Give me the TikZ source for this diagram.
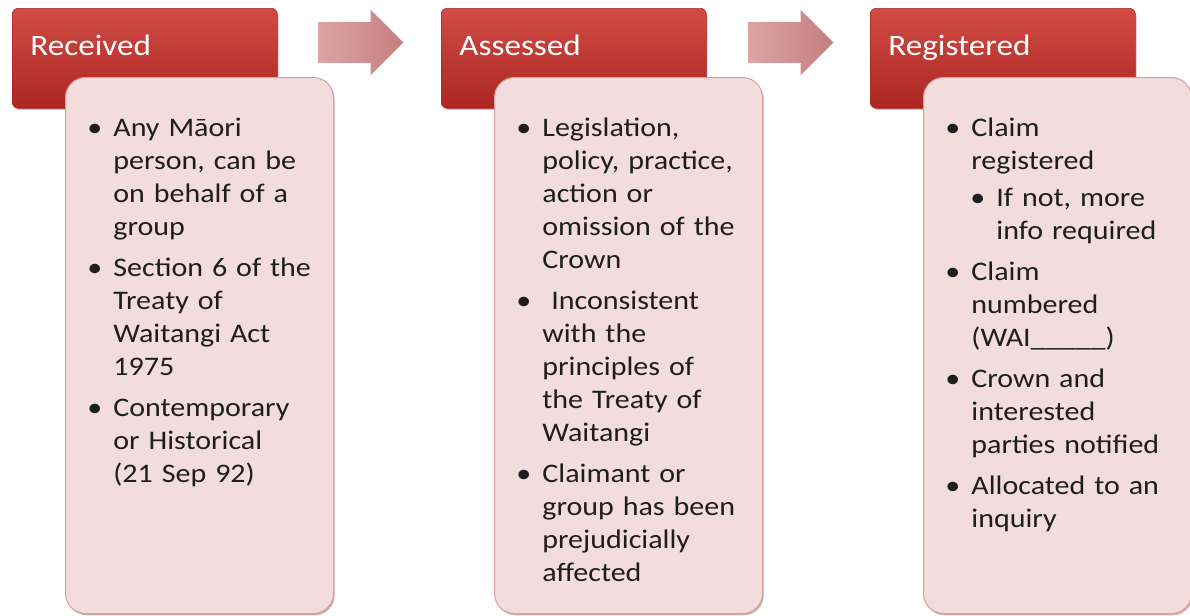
\documentclass[tikz,border=0pt]{standalone}
\usepackage{fontspec}
\setmainfont[FakeStretch=1.12]{Carlito}
\usepackage{enumitem}
\usetikzlibrary{positioning, shapes.arrows, shadows}

\definecolor{headtop}{RGB}{210,76,70}
\definecolor{headbottom}{RGB}{172,38,34}
\definecolor{boxpink}{RGB}{242,220,220}
\definecolor{boxedge}{RGB}{214,160,158}
\definecolor{shadowred}{RGB}{150,70,66}
\definecolor{arrowlight}{RGB}{220,164,164}
\definecolor{arrowdark}{RGB}{198,126,126}
\definecolor{bodytext}{RGB}{30,30,30}

% bullets inside the detail boxes
\setlist[itemize,1]{label=\textbullet, leftmargin=24pt, labelsep=5.5pt, itemsep=4pt, topsep=0pt, parsep=0pt, partopsep=0pt}
\setlist[itemize,2]{label=\textbullet, leftmargin=12.5pt, labelsep=5.5pt, itemsep=0pt, topsep=2pt, parsep=0pt, partopsep=0pt}

\tikzset{
	stage/.style={rectangle, rounded corners=3pt, minimum width=132.5pt, minimum height=50pt, inner sep=0pt,
		top color=headtop, bottom color=headbottom, draw=headbottom, line width=0.3pt,
		drop shadow={shadow xshift=0.6pt, shadow yshift=-0.8pt, opacity=0.35, fill=shadowred}},
	stagelabel/.style={text=white, font=\fontsize{14.8}{17}\selectfont, inner sep=0pt},
	detail/.style={rectangle, rounded corners=10pt, minimum width=134pt, minimum height=268pt, inner sep=0pt,
		fill=boxpink, draw=boxedge, line width=0.5pt,
		drop shadow={shadow xshift=0.6pt, shadow yshift=-0.9pt, opacity=0.45, fill=shadowred}},
	detailtext/.style={text width=128pt, align=left, inner sep=0pt, text=bodytext, font=\fontsize{13.4}{16.5}\selectfont},
	flow/.style={single arrow, single arrow head extend=6.25pt, minimum height=42.5pt,
		inner xsep=0pt, inner ysep=10pt, left color=arrowlight, right color=arrowdark, draw=none}
}

\begin{document}
\begin{tikzpicture}[x=0.5pt, y=-0.5pt]
	\useasboundingbox (0,0) rectangle (1190,616);
	
	% === STAGE HEADERS ===
	\node[stage, anchor=north west] (received) at (12,8) {};
	\node[stage, anchor=north west] (assessed) at (441,8) {};
	\node[stage, anchor=north west] (registered) at (870,8) {};
	
	% arrows between the stages
	\node[flow, anchor=tail] (arrow1) at (318,42.5) {};
	\node[flow, anchor=tail] (arrow2) at (748,42.5) {};
	
	% === DETAIL BOXES ===
	\node[detail, anchor=north west] (received-box) at (65,77) {};
	\node[detail, anchor=north west] (assessed-box) at (494,77) {};
	\node[detail, anchor=north west] (registered-box) at (923,77) {};
	
	% header texts, drawn over the boxes
	\node[stagelabel, anchor=base west] (received-label) at ([shift={(9pt,-23.5pt)}]received.north west) {Received};
	\node[stagelabel, anchor=base west] (assessed-label) at ([shift={(9pt,-23.5pt)}]assessed.north west) {Assessed};
	\node[stagelabel, anchor=base west] (registered-label) at ([shift={(9pt,-23.5pt)}]registered.north west) {Registered};
	
	% === BULLET TEXTS ===
	\node[detailtext, below right=13pt and 0pt of received-box.north west] (received-text) {%
		\begin{itemize}
			\item Any Māori\\ person, can be\\ on behalf of a\\ group
			\item Section 6 of the\\ Treaty of\\ Waitangi Act\\ 1975
			\item Contemporary\\ or Historical\\ (21 Sep 92)
		\end{itemize}};
	\node[detailtext, below right=13pt and 0pt of assessed-box.north west] (assessed-text) {%
		\begin{itemize}
			\item Legislation,\\ policy, practice,\\ action or\\ omission of the\\ Crown
			\item \ Inconsistent\\ with the\\ principles of\\ the Treaty of\\ Waitangi
			\item Claimant or\\ group has been\\ prejudicially\\ affected
		\end{itemize}};
	\node[detailtext, below right=13pt and 0pt of registered-box.north west] (registered-text) {%
		\begin{itemize}
			\item Claim\\ registered
			\begin{itemize}
				\item If not, more\\ info required
			\end{itemize}
			\item Claim\\ numbered\\ (WAI\_\_\_\_\_)
			\item Crown and\\ interested\\ parties notified
			\item Allocated to an\\ inquiry
		\end{itemize}};
\end{tikzpicture}
\end{document}
